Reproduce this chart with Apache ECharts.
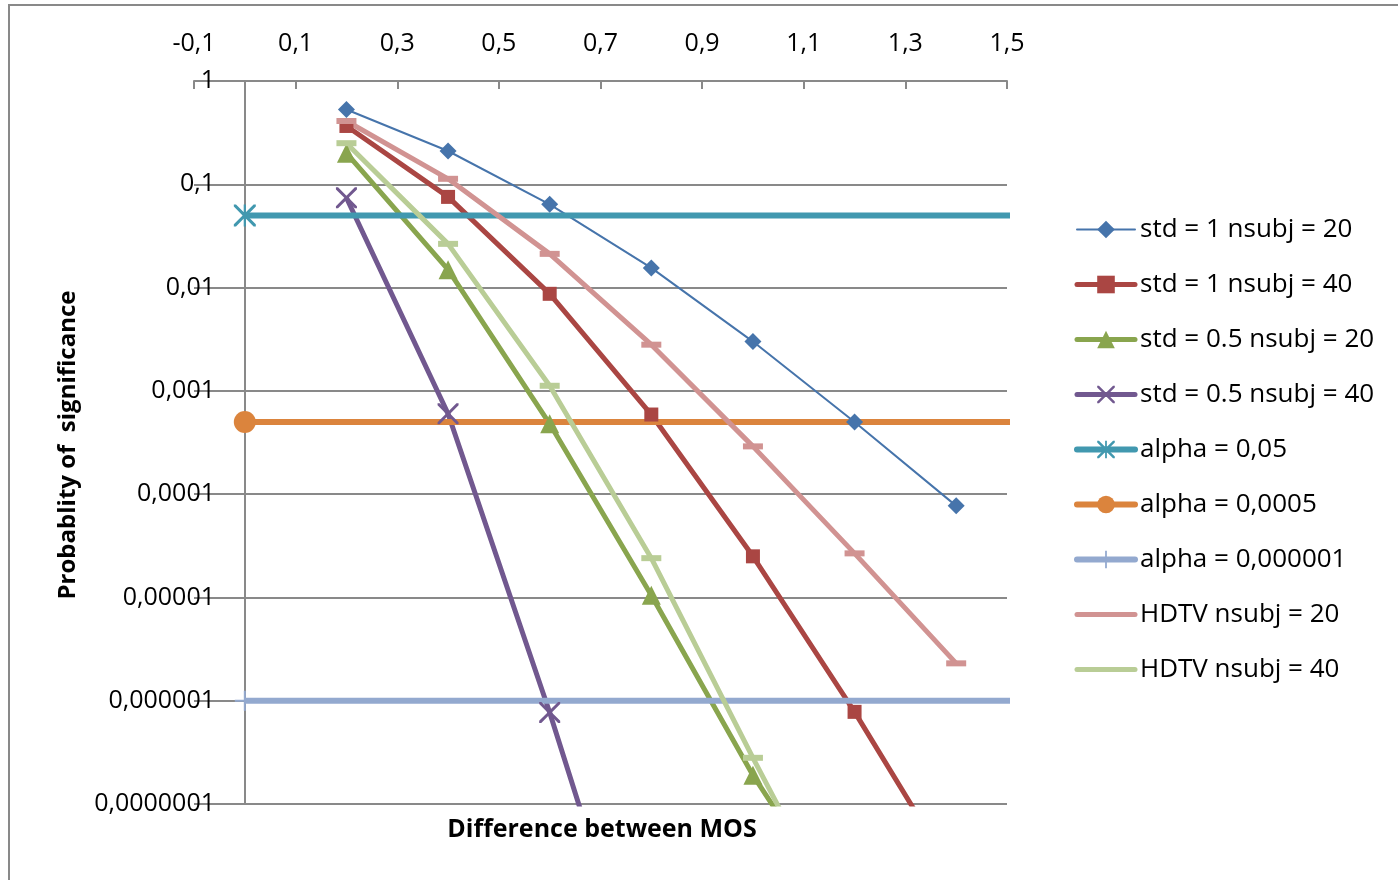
<!DOCTYPE html>
<html>
<head>
<meta charset="utf-8">
<script src="https://cdn.jsdelivr.net/npm/echarts@6/dist/echarts.min.js"></script>
<style>
  html, body { margin: 0; padding: 0; background: #fff; }
  #chart { width: 1398px; height: 880px; }
</style>
</head>
<body>
<div id="chart"></div>
<script>
// x positions of the measured points (difference between MOS)
var xValues = [0.2, 0.4, 0.6, 0.8, 1.0, 1.2, 1.4];
// the alpha lines are flat, from 0 to past the right edge
var alphaX = [0, 1.6];

var std1n20 = [0.53, 0.21, 0.064, 0.0155, 0.003, 0.0005, 0.000077];
var std1n40 = [0.367, 0.0755, 0.0087, 0.00059, 0.000025, 0.00000078, 0.000000019];
var std05n20 = [0.2, 0.0149, 0.00048, 0.0000105, 0.00000019, 0.000000006];
var std05n40 = [0.074, 0.0006, 0.00000077, 0.0000000006];
var hdtv20 = [0.41, 0.113, 0.0212, 0.0028, 0.00029, 0.0000267, 0.0000023];
var hdtv40 = [0.25, 0.0265, 0.00112, 0.000024, 0.00000028, 0.0000000037];
var alphaLevels = [0.05, 0.0005, 0.000001];

var xTicks = [-0.1, 0.1, 0.3, 0.5, 0.7, 0.9, 1.1, 1.3, 1.5];
var yTickLabels = ['1', '0,1', '0,01', '0,001', '0,0001', '0,00001', '0,000001', '0,0000001'];

var FONT = '"Open Sans", "Noto Sans", sans-serif';
var GRAY = '#898989';

// marker shapes
var xMark = 'path://M0,0 L2,0 L10,8 L18,0 L20,0 L20,2 L12,10 L20,18 L20,20 L18,20 L10,12 L2,20 L0,20 L0,18 L8,10 L0,2 Z';
var starMark = xMark.replace('Z', 'Z M9,0 L11,0 L11,20 L9,20 Z');
var plusMark = 'path://M9,0 L11,0 L11,9 L20,9 L20,11 L11,11 L11,20 L9,20 L9,11 L0,11 L0,9 L9,9 Z';

function pairs(xs, ys) {
    return ys.map(function (v, i) { return [xs[i], v]; });
}

function lineSeries(name, data, color, width, symbol, size) {
    return {
        name: name,
        type: 'line',
        data: data,
        color: color,
        lineStyle: { width: width, color: color },
        itemStyle: { color: color },
        symbol: symbol,
        symbolSize: size,
        showAllSymbol: true,
        clip: true,
        animation: false
    };
}

var legendNames = ['std = 1 nsubj = 20', 'std = 1 nsubj = 40', 'std = 0.5 nsubj = 20', 'std = 0.5 nsubj = 40',
    'alpha = 0,05', 'alpha = 0,0005', 'alpha = 0,000001', 'HDTV nsubj = 20', 'HDTV nsubj = 40'];

var myChart = echarts.init(document.getElementById('chart'));

myChart.setOption({
    animation: false,
    grid: { left: 194, top: 81, width: 813, height: 723 },
    xAxis: {
        type: 'value',
        position: 'top',
        min: -0.1,
        max: 1.5,
        axisLine: { show: true, lineStyle: { color: GRAY, width: 2 } },
        axisTick: { show: true, inside: true, length: 8, customValues: xTicks, lineStyle: { color: GRAY, width: 2 } },
        axisLabel: {
            customValues: xTicks,
            margin: 25,
            color: '#000',
            fontFamily: FONT,
            fontSize: 25,
            formatter: function (v) { return v.toFixed(1).replace('.', ','); }
        },
        splitLine: { show: false }
    },
    yAxis: {
        type: 'log',
        logBase: 10,
        min: 0.0000001,
        max: 1,
        axisLine: { show: true, onZero: true, lineStyle: { color: GRAY, width: 2 } },
        axisTick: { show: true, length: 8, lineStyle: { color: GRAY, width: 2 } },
        axisLabel: {
            margin: -21,
            color: '#000',
            fontFamily: FONT,
            fontSize: 25,
            formatter: function (v) {
                var e = Math.round(-Math.log10(v));
                return yTickLabels[e];
            }
        },
        splitLine: { show: true, lineStyle: { color: GRAY, width: 2 } }
    },
    legend: {
        orient: 'vertical',
        left: 1069,
        top: 211,
        itemWidth: 58,
        itemHeight: 22,
        itemGap: 28,
        lineStyle: { width: 'inherit', cap: 'round' },
        textStyle: { fontFamily: FONT, fontSize: 26, color: '#000', lineHeight: 27 },
        data: legendNames.map(function (n) {
            if (n.indexOf('HDTV') === 0) {
                return { name: n, itemStyle: { opacity: 0 } };
            }
            return { name: n };
        })
    },
    graphic: [
        {
            type: 'rect',
            shape: { x: 9, y: 5, width: 1500, height: 1000 },
            style: { fill: 'none', stroke: GRAY, lineWidth: 2 },
            silent: true
        },
        {
            type: 'text',
            x: 602, y: 830,
            style: {
                text: 'Difference between MOS',
                font: 'bold 25px ' + FONT,
                fill: '#000',
                textAlign: 'center',
                textVerticalAlign: 'middle'
            }
        },
        {
            type: 'text',
            x: 68, y: 445,
            rotation: Math.PI / 2,
            style: {
                text: 'Probablity of  significance',
                font: 'bold 24px ' + FONT,
                fill: '#000',
                textAlign: 'center',
                textVerticalAlign: 'middle'
            }
        }
    ],
    series: [
        lineSeries('std = 1 nsubj = 20', pairs(xValues, std1n20), '#4674AB', 2, 'diamond', 17),
        lineSeries('std = 1 nsubj = 40', pairs(xValues, std1n40), '#AA4643', 5, 'rect', 14),
        lineSeries('std = 0.5 nsubj = 20', pairs(xValues, std05n20), '#89A54E', 5, 'triangle', 19),
        lineSeries('std = 0.5 nsubj = 40', pairs(xValues, std05n40), '#71588F', 5, xMark, 21),
        lineSeries('alpha = 0,05', pairs(alphaX, [alphaLevels[0], alphaLevels[0]]), '#4198AF', 6, starMark, 22),
        lineSeries('alpha = 0,0005', pairs(alphaX, [alphaLevels[1], alphaLevels[1]]), '#DB843D', 6, 'circle', 22),
        lineSeries('alpha = 0,000001', pairs(alphaX, [alphaLevels[2], alphaLevels[2]]), '#93A9CF', 6, plusMark, 20),
        lineSeries('HDTV nsubj = 20', pairs(xValues, hdtv20), '#D19392', 5, 'rect', [20, 6]),
        lineSeries('HDTV nsubj = 40', pairs(xValues, hdtv40), '#B9CD96', 5, 'rect', [20, 6])
    ]
});
</script>
</body>
</html>
